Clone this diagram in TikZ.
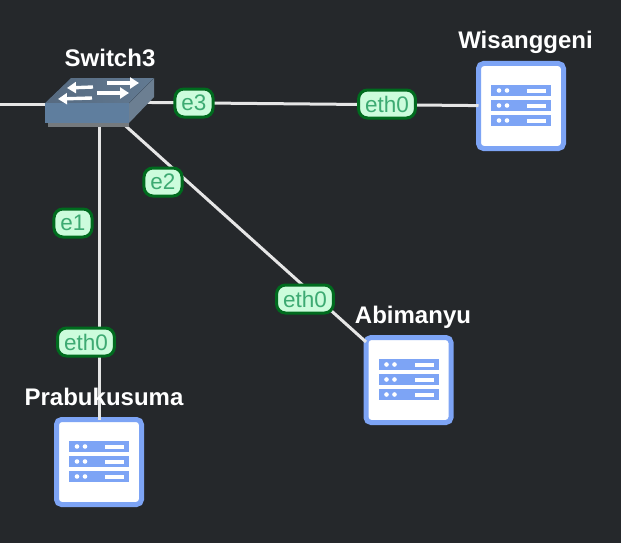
\documentclass[tikz,border=0pt]{standalone}
\usepackage{fontspec}
\setmainfont{Liberation Sans}
\usetikzlibrary{arrows.meta}
\definecolor{bgc}{HTML}{25282B}
\definecolor{srvblue}{HTML}{7DA4F5}
\definecolor{tagfill}{HTML}{CCFCDC}
\definecolor{tagline}{HTML}{006B1E}
\definecolor{tagtext}{HTML}{3DAA72}
\definecolor{linkc}{HTML}{E6E6E6}
\definecolor{swfront}{HTML}{5F7E9E}
\definecolor{swtopa}{HTML}{566A80}
\definecolor{swtopb}{HTML}{627A92}
\definecolor{swside}{HTML}{6C7F92}
\definecolor{swshadow}{HTML}{757A7E}
\tikzset{
  x=1pt,y=-1pt,
  link/.style={draw=linkc,line width=3pt},
  serverbox/.style={draw=srvblue,fill=white,line width=5pt,rounded corners=5pt,minimum size=85pt,inner sep=0pt,outer sep=0pt},
  nametext/.style={text=white,font=\fontsize{24}{27}\selectfont\bfseries,inner sep=0pt},
  tag/.style={draw=tagline,fill=tagfill,text=tagtext,line width=3pt,rounded corners=9pt,font=\fontsize{22.5}{26}\selectfont,inner xsep=6.5pt,inner ysep=2pt,minimum height=28pt},
  swarrow/.style={draw=white,line width=3.4pt,-{Triangle[length=9pt,width=11pt]}},
  pics/servericon/.style={code={
    \fill[srvblue] (-30,-21) rectangle (30,-10);
    \fill[srvblue] (-30,-6) rectangle (30,5);
    \fill[srvblue] (-30,9) rectangle (30,20);
    \foreach \yy in {-15.5,-0.5,14.5}{
      \fill[white] (-22,\yy) circle (2.3pt);
      \fill[white] (-14,\yy) circle (2.3pt);
      \fill[white] (6,\yy-2) rectangle (25,\yy+2);
    }
  }}
}
\begin{document}
\begin{tikzpicture}
\useasboundingbox (0,0) rectangle (621,543);
\fill[bgc] (0,0) rectangle (621,543);
\coordinate (sw) at (99,102);
\coordinate (leftend) at (0,104);
\coordinate (swleft) at (50,104);
\node[serverbox] (wis) at (521,106) {};
\node[serverbox] (abi) at (408.5,380) {};
\node[serverbox] (pra) at (99,462) {};
\pic at (wis.center) {servericon};
\pic at (abi.center) {servericon};
\pic at (pra.center) {servericon};
\draw[link] (leftend) -- (swleft);
\draw[link] (sw) -- (wis);
\draw[link] (sw) -- (abi);
\draw[link] (sw) -- (pra);
% switch
\fill[swshadow] (48,120) rectangle (129,127);
\fill[swside] (129,103) -- (154,78) -- (154,97) -- (129,123) -- cycle;
\fill[left color=swtopa,right color=swtopb] (45,103) -- (71,78) -- (154,78) -- (129,103) -- cycle;
\fill[swfront] (45,103) rectangle (129,123);
\draw[swarrow] (93,87) -- (67,88);
\draw[swarrow] (107,83) -- (139,83);
\draw[swarrow] (92,98) -- (58,99);
\draw[swarrow] (97,93) -- (129,93);
% labels
\node[tag] (te3) at (194,103) {e3};
\node[tag] (te2) at (163,182) {e2};
\node[tag] (te1) at (73,223) {e1};
\node[tag] (tw) at (387,104) {eth0};
\node[tag] (ta) at (305,299) {eth0};
\node[tag] (tp) at (86,342) {eth0};
% names
\node[nametext] (nsw) at (110,58) {Switch3};
\node[nametext] (nwis) at (525.5,42) {Wisanggeni};
\node[nametext] (nabi) at (413,317) {Abimanyu};
\node[nametext] (npra) at (104,397) {Prabukusuma};
\end{tikzpicture}
\end{document}
